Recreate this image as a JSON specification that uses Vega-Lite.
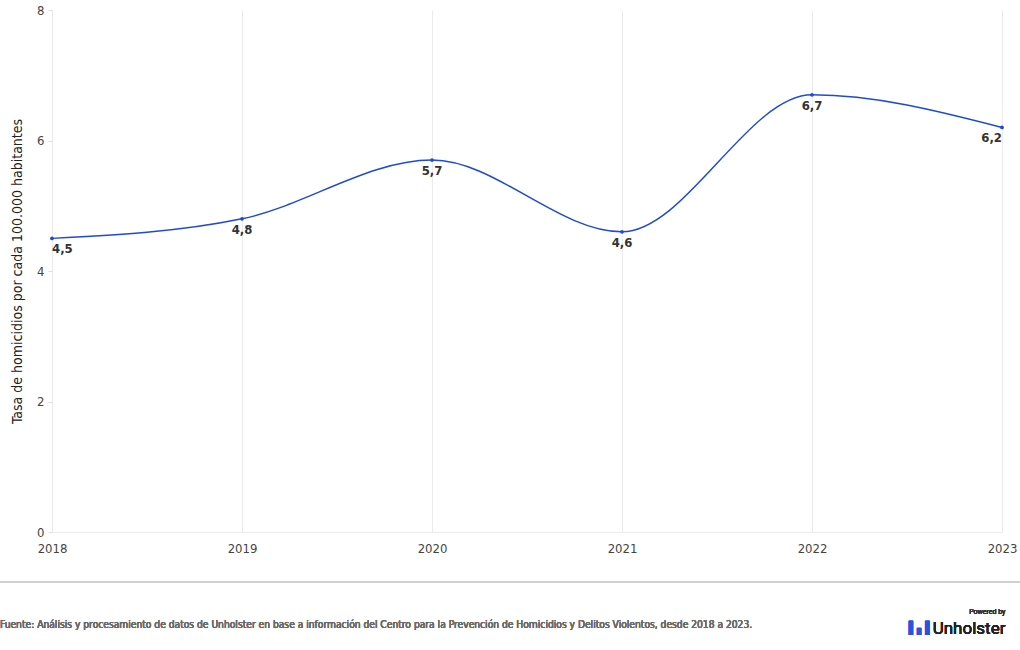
{
  "$schema": "https://vega.github.io/schema/vega-lite/v6.json",
  "autosize": "none",
  "width": 950,
  "height": 522,
  "padding": {"left": 52, "top": 10, "right": 18, "bottom": 118},
  "background": "white",
  "config": {
    "font": "Liberation Sans Narrow, DejaVu Sans Condensed, sans-serif",
    "view": {"stroke": null}
  },
  "data": {
    "values": [
      {"year": 2018, "tasa": 4.5, "label": "4,5"},
      {"year": 2019, "tasa": 4.8, "label": "4,8"},
      {"year": 2020, "tasa": 5.7, "label": "5,7"},
      {"year": 2021, "tasa": 4.6, "label": "4,6"},
      {"year": 2022, "tasa": 6.7, "label": "6,7"},
      {"year": 2023, "tasa": 6.2, "label": "6,2"}
    ]
  },
  "encoding": {
    "x": {
      "field": "year",
      "type": "quantitative",
      "scale": {"domain": [2018, 2023], "nice": false, "zero": false},
      "axis": {
        "title": null,
        "values": [2018, 2019, 2020, 2021, 2022, 2023],
        "format": "d",
        "grid": true,
        "gridColor": "#ebebeb",
        "domainColor": "#ebebeb",
        "ticks": false,
        "labelFlush": false,
        "labelPadding": 10,
        "labelFontSize": 13,
        "labelColor": "#444"
      }
    },
    "y": {
      "field": "tasa",
      "type": "quantitative",
      "scale": {"domain": [0, 8], "nice": false},
      "axis": {
        "title": "Tasa de homicidios por cada 100.000 habitantes",
        "titleFontSize": 14,
        "titleFontWeight": "normal",
        "titleColor": "#222",
        "titlePadding": 12,
        "values": [0, 2, 4, 6, 8],
        "grid": false,
        "domain": false,
        "labelFlush": false,
        "tickColor": "#e0e0e0",
        "tickSize": 4,
        "labelPadding": 4,
        "labelFontSize": 13,
        "labelColor": "#444"
      }
    }
  },
  "layer": [
    {
      "mark": {"type": "line", "interpolate": "monotone", "color": "#1f4bd2", "strokeWidth": 1.5}
    },
    {
      "mark": {"type": "point", "filled": true, "size": 14, "color": "#1f4bd2", "opacity": 1}
    },
    {
      "transform": [{"filter": "datum.year > 2018 && datum.year < 2023"}],
      "mark": {"type": "text", "dy": 11, "fontSize": 13, "fontWeight": "bold", "color": "#333"},
      "encoding": {"text": {"field": "label"}}
    },
    {
      "transform": [{"filter": "datum.year == 2018"}],
      "mark": {"type": "text", "align": "left", "dy": 11, "fontSize": 13, "fontWeight": "bold", "color": "#333"},
      "encoding": {"text": {"field": "label"}}
    },
    {
      "transform": [{"filter": "datum.year == 2023"}],
      "mark": {"type": "text", "align": "right", "dy": 11, "fontSize": 13, "fontWeight": "bold", "color": "#333"},
      "encoding": {"text": {"field": "label"}}
    },
    {
      "mark": {"type": "rule", "color": "#d0d0d0", "strokeWidth": 1, "clip": false},
      "encoding": {
        "x": {"datum": 2017.726},
        "x2": {"datum": 2023.095},
        "y": {"datum": -0.766}
      }
    },
    {
      "mark": {"type": "text", "align": "left", "fontSize": 10.2, "fontWeight": "normal", "color": "#6a6a6a", "clip": false},
      "encoding": {
        "x": {"datum": 2017.726},
        "y": {"datum": -1.425},
        "text": {"value": "Fuente: Análisis y procesamiento de datos de Unholster en base a información del Centro para la Prevención de Homicidios y Delitos Violentos, desde 2018 a 2023."}
      }
    },
    {
      "mark": {"type": "text", "align": "right", "fontSize": 7, "font": "Roboto", "color": "#333", "clip": false},
      "encoding": {
        "x": {"datum": 2023.018},
        "y": {"datum": -1.22},
        "text": {"value": "Powered by"}
      }
    },
    {
      "mark": {"type": "text", "align": "right", "fontSize": 17, "font": "Roboto", "fontWeight": "normal", "color": "#222", "clip": false},
      "encoding": {
        "x": {"datum": 2023.018},
        "y": {"datum": -1.48},
        "text": {"value": "Unholster"}
      }
    },
    {
      "mark": {"type": "text", "align": "right", "fontSize": 12, "fontWeight": "bold", "color": "#2456e0", "clip": false},
      "encoding": {
        "x": {"datum": 2022.64},
        "y": {"datum": -1.47},
        "text": {"value": "▌▖▌"}
      }
    }
  ]
}
